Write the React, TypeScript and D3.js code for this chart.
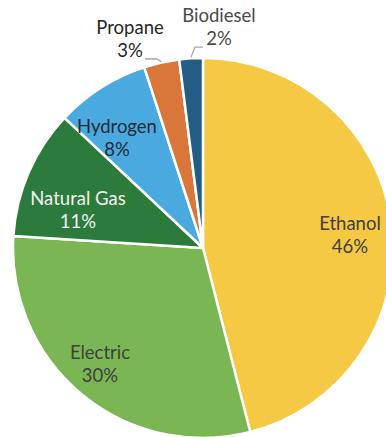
import React from "react";
import * as d3 from "d3";

const categories = ["Ethanol", "Electric", "Natural Gas", "Hydrogen", "Propane", "Biodiesel"];
const shares = [46, 30, 11, 8, 3, 2];
const labels = ["46%", "30%", "11%", "8%", "3%", "2%"];

const colors = ["#F6C944", "#7AB654", "#2D7B3C", "#4AAADF", "#D9763A", "#235C84"];
const textColors = ["#404040", "#404040", "#F2F2F2", "#1E2A36", "#262626", "#4A4A4A"];
// label placement: radius factor, offsets, outside flag
const labelStyle = [
  { rf: 0.74, dx: 7.5, dy: 5.6, outside: false },
  { rf: 0.74, dx: -13.4, dy: 8.7, outside: false },
  { rf: 0.74, dx: 4, dy: 18.8, outside: false },
  { rf: 0.74, dx: -10.7, dy: 9.7, outside: false },
  { rf: 1.16, dx: -24.9, dy: 7.1, outside: true },
  { rf: 1.16, dx: 29.8, dy: 0, outside: true },
];

const W = 386;
const H = 437;
const CX = 203;
const CY = 248;
const R = 190;

export default function App() {
  const pie = d3.pie<number>().sort(null).value((d) => d);
  const arcs = pie(shares);
  const arc = d3.arc<d3.PieArcDatum<number>>().innerRadius(0).outerRadius(R);
  const font = "Lato, 'Open Sans', sans-serif";

  return (
    <svg
      width={W}
      height={H}
      style={{ position: "fixed", left: 0, top: 0, background: "#fff" }}
    >
      <g transform={`translate(${CX},${CY})`}>
        {arcs.map((a, i) => (
          <path key={categories[i]} d={arc(a) || ""} fill={colors[i]} stroke="#fff" strokeWidth={2.5} strokeLinejoin="round" />
        ))}
        {arcs.map((a, i) => {
          const st = labelStyle[i];
          const la = d3.arc<d3.PieArcDatum<number>>().innerRadius(R * st.rf).outerRadius(R * st.rf);
          const [lx0, ly0] = la.centroid(a);
          const lx = lx0 + st.dx;
          const ly = ly0 + st.dy;
          let leader: string | null = null;
          if (st.outside) {
            const ea = d3.arc<d3.PieArcDatum<number>>().innerRadius(R + 1).outerRadius(R + 1);
            const [ex, ey] = ea.centroid(a);
            if (lx < ex) {
              // label to the left
              const sx = lx + 15;
              const sy = ly + 19;
              leader = `M${sx},${sy}L${ex - 5},${sy}L${ex},${ey}`;
            } else {
              const sx = lx - 16;
              const sy = ly + 19;
              leader = `M${sx},${sy}L${ex + 4},${sy}L${ex},${ey}`;
            }
          }
          return (
            <g key={"l" + categories[i]}>
              {leader && <path d={leader} fill="none" stroke="#A6A6A6" strokeWidth={1.3} />}
              <text
                x={lx}
                y={ly}
                textAnchor="middle"
                fontFamily={font}
                fontSize={18.5}
                fill={textColors[i]}
              >
                <tspan x={lx} y={ly - 6}>{categories[i]}</tspan>
                <tspan x={lx} y={ly + 17}>{labels[i]}</tspan>
              </text>
            </g>
          );
        })}
      </g>
    </svg>
  );
}
